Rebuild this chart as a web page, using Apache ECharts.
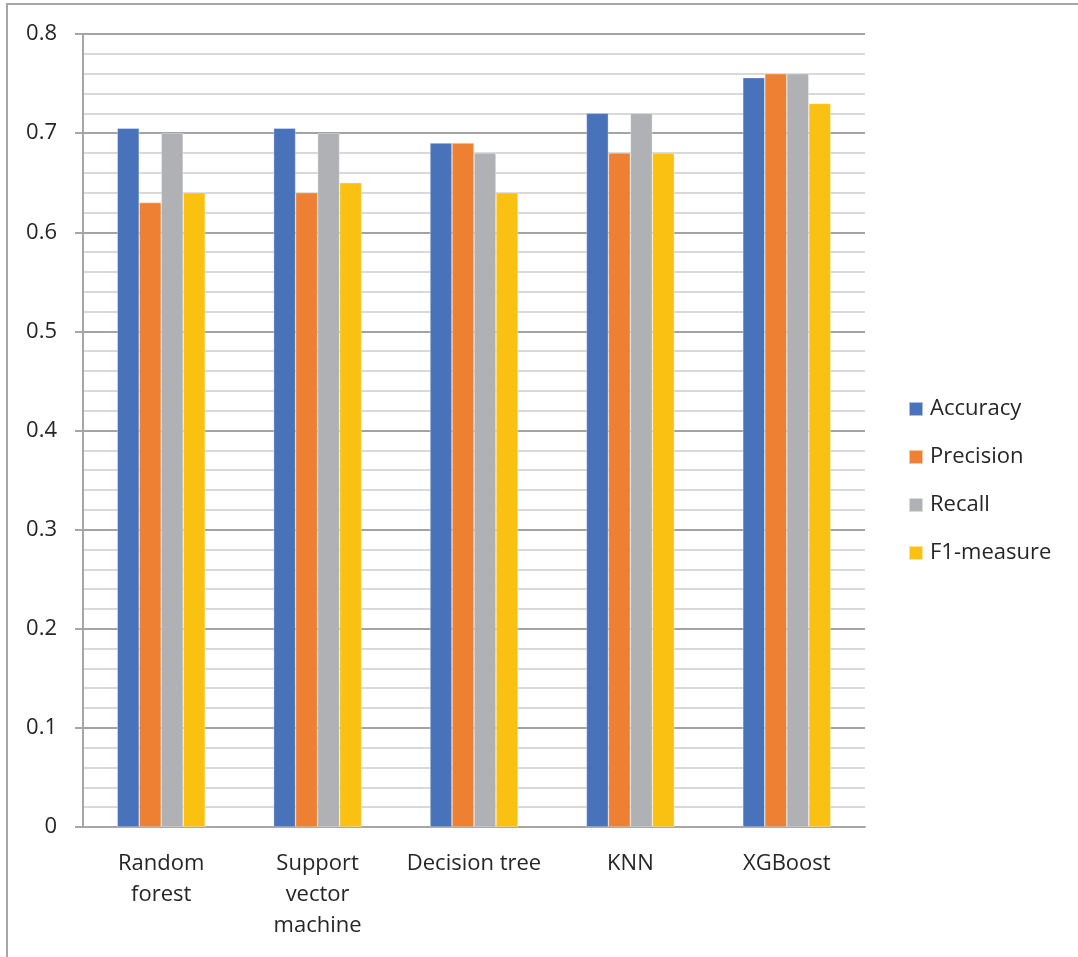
<!DOCTYPE html>
<html>
<head>
<meta charset="utf-8">
<script src="https://cdn.jsdelivr.net/npm/echarts@6/dist/echarts.min.js"></script>
<style>
html,body{margin:0;padding:0;background:#fff;}
#chart{width:1078px;height:957px;}
</style>
</head>
<body>
<div id="chart"></div>
<script>
const categories = ['Random forest', 'Support vector machine', 'Decision tree', 'KNN', 'XGBoost'];
const categoryLabels = ['Random\nforest', 'Support\nvector\nmachine', 'Decision tree', 'KNN', 'XGBoost'];
const seriesNames = ['Accuracy', 'Precision', 'Recall', 'F1-measure'];
const accuracy = [0.705, 0.705, 0.69, 0.72, 0.756];
const precision = [0.63, 0.64, 0.69, 0.68, 0.76];
const recall = [0.70, 0.70, 0.68, 0.72, 0.76];
const f1measure = [0.64, 0.65, 0.64, 0.68, 0.73];
const yTicks = [0, 0.1, 0.2, 0.3, 0.4, 0.5, 0.6, 0.7, 0.8];

const colors = ['#4872B9', '#ED8032', '#B0B1B4', '#FBC112'];
const seriesData = [accuracy, precision, recall, f1measure];
const FONT = '"Open Sans", sans-serif';

const chart = echarts.init(document.getElementById('chart'), null, {renderer: 'canvas'});
chart.setOption({
  animation: false,
  backgroundColor: '#fff',
  color: colors,
  graphic: [{
    type: 'rect',
    shape: {x: 7, y: 4, width: 3000, height: 3000},
    style: {fill: null, stroke: '#a6a6a6', lineWidth: 2},
    silent: true
  }],
  grid: {left: 83, top: 34, right: 213, bottom: 130, containLabel: false},
  legend: {
    orient: 'vertical',
    left: 908,
    top: 397,
    padding: 0,
    itemWidth: 14,
    itemHeight: 14,
    itemGap: 24,
    icon: 'rect',
    data: seriesNames,
    textStyle: {fontFamily: FONT, fontSize: 22, color: '#262626', lineHeight: 24, padding: [0, 0, 0, 2]}
  },
  xAxis: {
    type: 'category',
    data: categories,
    axisLine: {show: true, lineStyle: {color: '#a6a6a6', width: 2}},
    axisTick: {show: false},
    splitLine: {show: false},
    axisLabel: {
      interval: 0,
      margin: 21,
      fontFamily: FONT,
      fontSize: 22,
      lineHeight: 31,
      color: '#262626',
      formatter: function (v, i) { return categoryLabels[i]; }
    }
  },
  yAxis: {
    type: 'value',
    min: yTicks[0],
    max: yTicks[yTicks.length - 1],
    interval: 0.1,
    axisLine: {show: true, lineStyle: {color: '#a6a6a6', width: 2}},
    axisTick: {show: true, length: 8, lineStyle: {color: '#a6a6a6', width: 2}},
    axisLabel: {
      margin: 26,
      fontFamily: FONT,
      fontSize: 22,
      color: '#262626',
      formatter: function (v) { return String(Math.round(v * 10) / 10); }
    },
    splitLine: {show: true, lineStyle: {color: '#a3a3a3', width: 2}},
    minorTick: {show: false, splitNumber: 5},
    minorSplitLine: {show: true, lineStyle: {color: '#d9d9d9', width: 2}}
  },
  series: seriesNames.map(function (name, k) {
    return {
      name: name,
      type: 'bar',
      data: seriesData[k],
      barWidth: 22,
      barGap: '0%',
      itemStyle: {color: colors[k], borderColor: 'rgba(255,255,255,0.55)', borderWidth: 0.6}
    };
  })
});
</script>
</body>
</html>
